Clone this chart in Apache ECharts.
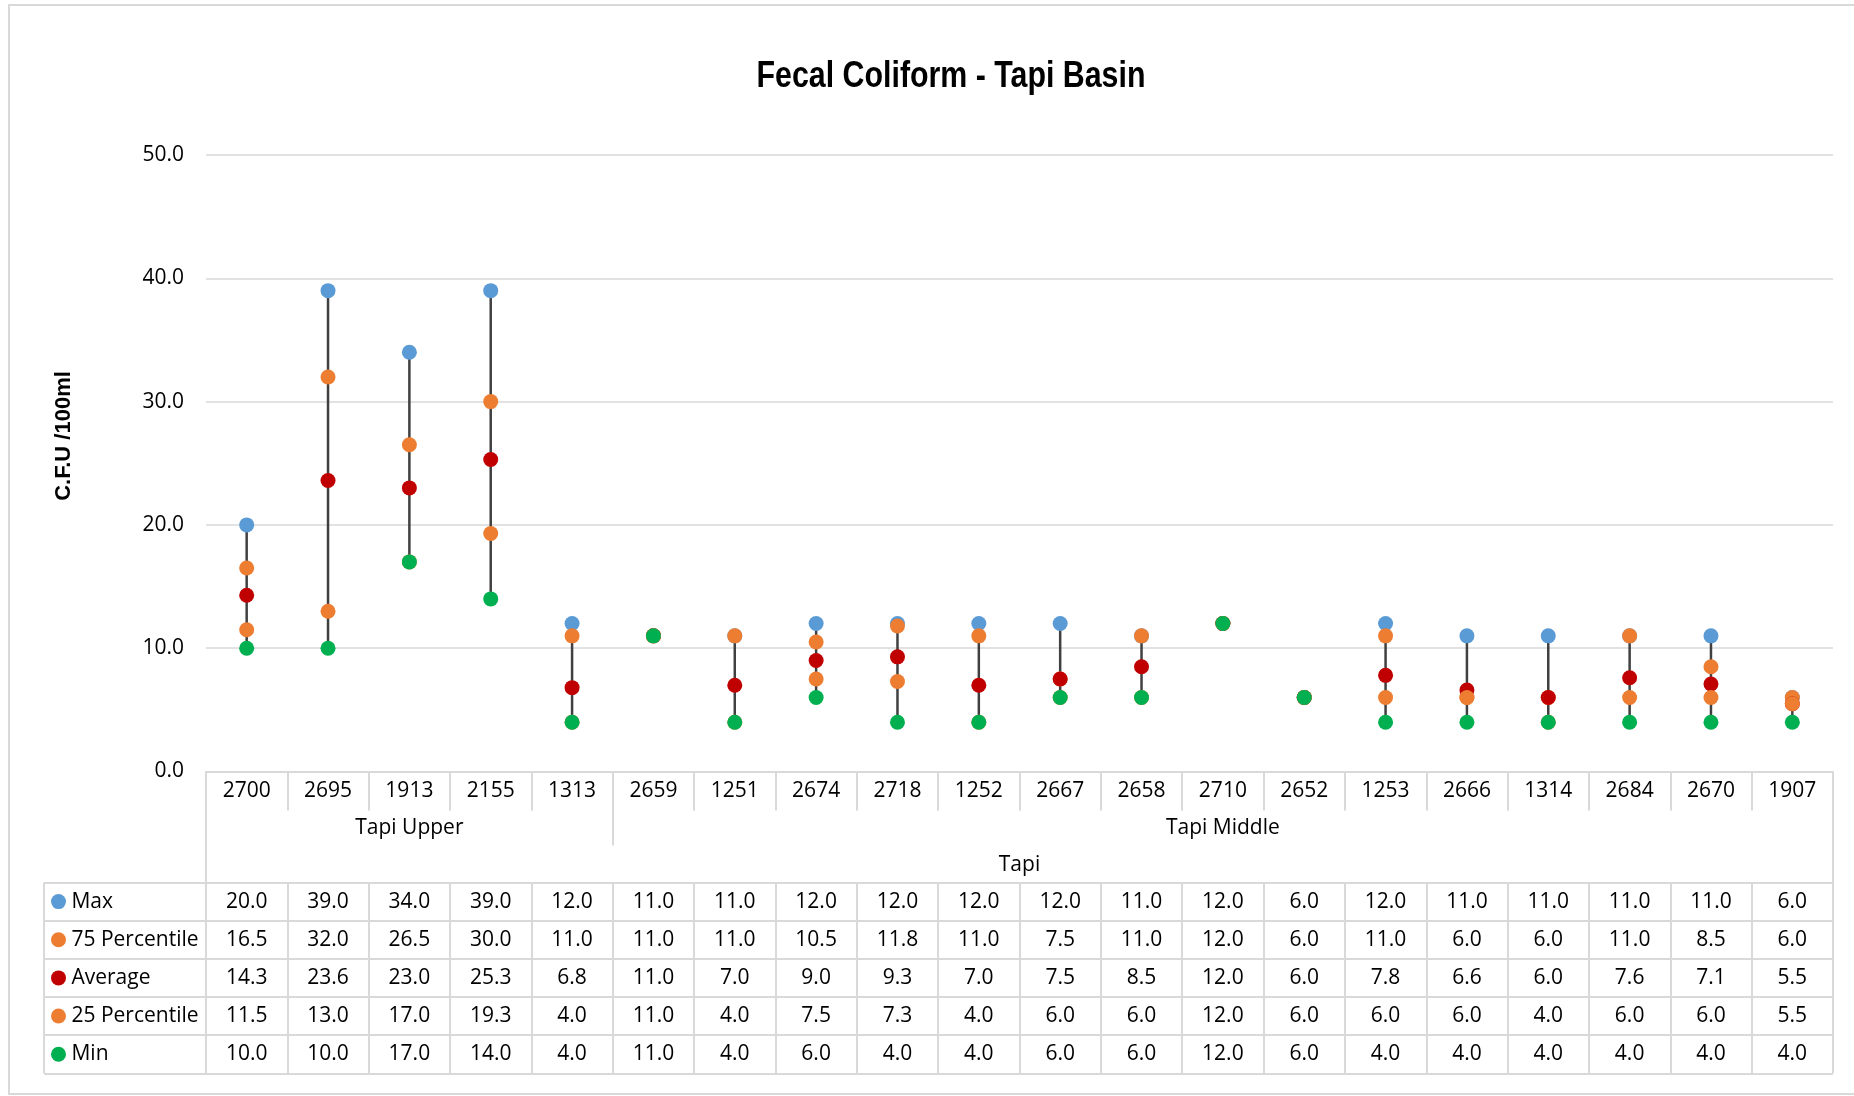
<!DOCTYPE html>
<html>
<head>
<meta charset="utf-8">
<script src="https://cdn.jsdelivr.net/npm/echarts@6/dist/echarts.min.js"></script>
<style>
html,body{margin:0;padding:0;background:#fff;overflow:hidden}
#frame{position:absolute;left:8px;top:4px;width:1870px;height:1091px;border:2px solid #d9d9d9;box-sizing:border-box}
#chart{position:absolute;left:0;top:0;width:1854px;height:1096px}
</style>
</head>
<body>
<div id="frame"></div>
<div id="chart"></div>
<script>
// ---- data ----
const categories = ['2700','2695','1913','2155','1313','2659','1251','2674','2718','1252','2667','2658','2710','2652','1253','2666','1314','2684','2670','1907'];
const groupNames = ['Tapi Upper','Tapi Middle'];
const groupSizes = [5, 15];
const basinName = 'Tapi';
const maxVals = [20.0,39.0,34.0,39.0,12.0,11.0,11.0,12.0,12.0,12.0,12.0,11.0,12.0,6.0,12.0,11.0,11.0,11.0,11.0,6.0];
const p75Vals = [16.5,32.0,26.5,30.0,11.0,11.0,11.0,10.5,11.8,11.0,7.5,11.0,12.0,6.0,11.0,6.0,6.0,11.0,8.5,6.0];
const avgVals = [14.3,23.6,23.0,25.3,6.8,11.0,7.0,9.0,9.3,7.0,7.5,8.5,12.0,6.0,7.8,6.6,6.0,7.6,7.1,5.5];
const p25Vals = [11.5,13.0,17.0,19.3,4.0,11.0,4.0,7.5,7.3,4.0,6.0,6.0,12.0,6.0,6.0,6.0,4.0,6.0,6.0,5.5];
const minVals = [10.0,10.0,17.0,14.0,4.0,11.0,4.0,6.0,4.0,4.0,6.0,6.0,12.0,6.0,4.0,4.0,4.0,4.0,4.0,4.0];
const seriesNames = ['Max','75 Percentile','Average','25 Percentile','Min'];
const yMin = 0, yMax = 50, yStep = 10;
const titleText = 'Fecal Coliform - Tapi Basin';
const yAxisTitle = 'C.F.U /100ml';

// ---- styling ----
const FONT = '"Open Sans", "Noto Sans", sans-serif';
const GRID_C = '#d9d9d9';
const seriesColors = ['#5B9BD5','#ED7D31','#C00000','#ED7D31','#00B050'];
const seriesValues = [maxVals, p75Vals, avgVals, p25Vals, minVals];

// derived helpers for group rows
const groupCats = [];
const groupStarts = [];
const groupCenters = [];
let acc = 0;
groupNames.forEach((g, k) => {
  groupStarts.push(acc);
  groupCenters.push(acc + (groupSizes[k] - 1) / 2);
  for (let j = 0; j < groupSizes[k]; j++) groupCats.push(g);
  acc += groupSizes[k];
});

const tableData = [];
seriesValues.forEach((arr, r) => arr.forEach((v, i) => tableData.push([i, r, v])));

const rich = {};
seriesColors.forEach((c, i) => {
  rich['d' + i] = {width: 15, height: 15, borderRadius: 7.5, backgroundColor: c};
});

const chart = echarts.init(document.getElementById('chart'), null, {renderer: 'canvas'});
const txt = {fontSize: 21, fontFamily: FONT, color: '#000'};

const option = {
  animation: false,
  backgroundColor: 'transparent',
  grid: [
    {left: 206, right: 21, top: 155, bottom: 324.5, containLabel: false, outerBoundsMode: 'none'},
    {left: 206, right: 21, top: 882.5, height: 190.8, containLabel: false, outerBoundsMode: 'none'},
    {left: 44, width: 162, top: 882.5, height: 190.8, containLabel: false, outerBoundsMode: 'none'}
  ],
  xAxis: [
    {gridIndex: 0, type: 'category', data: categories, position: 'bottom',
     axisLine: {show: true, lineStyle: {color: GRID_C, width: 2}},
     axisTick: {show: true, interval: 0, length: 39, lineStyle: {color: GRID_C, width: 2}},
     axisLabel: Object.assign({interval: 0, margin: 9}, txt),
     splitLine: {show: false}},
    {gridIndex: 0, type: 'category', data: groupCats, position: 'bottom', offset: 39,
     axisLine: {show: false},
     axisTick: {show: true, interval: (i) => groupStarts.includes(i), length: 35, lineStyle: {color: GRID_C, width: 2}},
     axisLabel: Object.assign({interval: (i) => groupCenters.includes(i), margin: 7}, txt),
     splitLine: {show: false}},
    {gridIndex: 0, type: 'category', data: categories, position: 'bottom', offset: 74,
     axisLine: {show: false},
     axisTick: {show: true, interval: (i) => i === 0, length: 38, lineStyle: {color: GRID_C, width: 2}},
     axisLabel: {show: false},
     name: basinName, nameLocation: 'middle', nameGap: 9,
     nameTextStyle: {fontSize: 21, fontFamily: FONT, color: '#000'},
     splitLine: {show: false}},
    {gridIndex: 1, type: 'category', data: categories,
     axisLine: {show: false}, axisTick: {show: false}, axisLabel: {show: false},
     splitLine: {show: true, interval: 0, lineStyle: {color: GRID_C, width: 2}}},
    {gridIndex: 2, type: 'category', data: [''],
     axisLine: {show: false}, axisTick: {show: false}, axisLabel: {show: false},
     splitLine: {show: true, interval: 0, lineStyle: {color: GRID_C, width: 2}}}
  ],
  yAxis: [
    {gridIndex: 0, type: 'value', min: yMin, max: yMax, interval: yStep,
     axisLine: {show: false}, axisTick: {show: false},
     axisLabel: Object.assign({margin: 22, formatter: (v) => v.toFixed(1)}, txt),
     splitLine: {show: true, lineStyle: {color: GRID_C, width: 1.5}}},
    {gridIndex: 1, type: 'category', data: seriesNames, inverse: true,
     axisLine: {show: false}, axisTick: {show: false}, axisLabel: {show: false},
     splitLine: {show: true, interval: 0, lineStyle: {color: GRID_C, width: 2}}},
    {gridIndex: 2, type: 'category', data: seriesNames, inverse: true,
     axisLine: {show: false}, axisTick: {show: false},
     axisLabel: Object.assign({inside: true, align: 'left', margin: 7, interval: 0,
       formatter: (v, i) => '{d' + i + '| } ' + v, rich: rich}, txt),
     splitLine: {show: true, interval: 0, lineStyle: {color: GRID_C, width: 2}}}
  ],
  graphic: [
    {type: 'text', x: 951, y: 77, scaleX: 0.82, silent: true,
     style: {text: titleText, fontSize: 37, fontWeight: 'bold',
             fontFamily: '"Liberation Sans", Arial, sans-serif',
             fill: '#000', align: 'center', verticalAlign: 'middle'}},
    {type: 'text', x: 64, y: 436, rotation: Math.PI / 2, silent: true,
     style: {text: yAxisTitle, fontSize: 22, fontWeight: 'bold',
             fontFamily: '"Liberation Sans", Arial, sans-serif',
             fill: '#000', align: 'center', verticalAlign: 'middle'}}
  ],
  series: [
    {type: 'custom', name: 'range', xAxisIndex: 0, yAxisIndex: 0, z: 1, silent: true,
     data: categories.map((c, i) => [i, maxVals[i], minVals[i]]),
     encode: {x: 0, y: [1, 2]},
     renderItem: function (params, api) {
       const x = api.value(0);
       const p1 = api.coord([x, api.value(1)]);
       const p2 = api.coord([x, api.value(2)]);
       return {type: 'line', shape: {x1: p1[0], y1: p1[1], x2: p2[0], y2: p2[1]},
               style: {stroke: '#404040', lineWidth: 2.5}};
     }}
  ].concat(seriesValues.map((arr, k) => ({
    type: 'scatter', name: seriesNames[k], xAxisIndex: 0, yAxisIndex: 0, z: 3 + k,
    data: arr, symbol: 'circle', symbolSize: 15, silent: true,
    itemStyle: {color: seriesColors[k], opacity: 1}
  }))).concat([
    {type: 'custom', name: 'table', xAxisIndex: 3, yAxisIndex: 1, silent: true,
     data: tableData,
     renderItem: function (params, api) {
       const p = api.coord([api.value(0), api.value(1)]);
       return {type: 'text', x: p[0], y: p[1],
               style: {text: api.value(2).toFixed(1), fontSize: 21, fontFamily: FONT,
                       fill: '#000', align: 'center', verticalAlign: 'middle'}};
     }}
  ])
};
chart.setOption(option);
</script>
</body>
</html>
